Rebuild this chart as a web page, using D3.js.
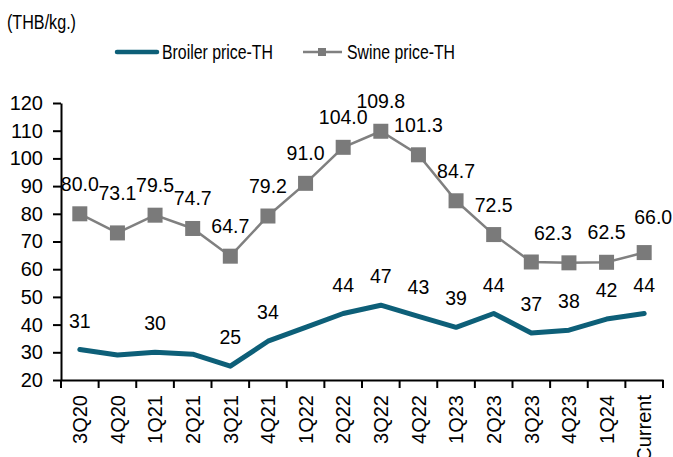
<!DOCTYPE html>
<html>
<head>
<meta charset="utf-8">
<script src="https://cdn.jsdelivr.net/npm/d3@7"></script>
<style>
  body { margin: 0; background: #fff; }
  text { font-family: "Liberation Sans", Arial, sans-serif; fill: #000; }
</style>
</head>
<body>
<div id="chart"></div>
<script>
// quarters on the x axis
const categories = ["3Q20", "4Q20", "1Q21", "2Q21", "3Q21", "4Q21", "1Q22", "2Q22",
  "3Q22", "4Q22", "1Q23", "2Q23", "3Q23", "4Q23", "1Q24", "Current"];

const broilerPrice = [31, 29, 30, 29.3, 25, 34, 39, 44, 47, 43, 39, 44, 37, 38, 42, 44];
const swinePrice = [80.0, 73.1, 79.5, 74.7, 64.7, 79.2, 91.0, 104.0, 109.8, 101.3, 84.7, 72.5, 62.6, 62.3, 62.5, 66.0];

// which points carry a value label
const broilerLabelled = ["3Q20", "1Q21", "3Q21", "4Q21", "2Q22", "3Q22", "4Q22", "1Q23", "2Q23", "3Q23", "4Q23", "1Q24", "Current"];
const swineLabelled = ["3Q20", "4Q20", "1Q21", "2Q21", "3Q21", "4Q21", "1Q22", "2Q22", "3Q22", "4Q22", "1Q23", "2Q23", "4Q23", "1Q24", "Current"];

const yTicks = [20, 30, 40, 50, 60, 70, 80, 90, 100, 110, 120];

const width = 673, height = 457;
const margin = { top: 103, right: 10, bottom: 77, left: 61 };
const broilerColor = "#0d5f78";
const swineColor = "#808080";

const svg = d3.select("#chart").append("svg")
  .attr("width", width)
  .attr("height", height);

const x = d3.scaleBand()
  .domain(categories)
  .range([margin.left, width - margin.right]);

const y = d3.scaleLinear()
  .domain([20, 120])
  .range([height - margin.bottom, margin.top]);

const cx = d => x(d) + x.bandwidth() / 2;

// y axis
const yAxis = svg.append("g")
  .attr("transform", `translate(${margin.left},0)`)
  .call(d3.axisLeft(y).tickValues(yTicks).tickSize(8).tickPadding(10).tickSizeOuter(0));
yAxis.selectAll("text").style("font-size", "20px").attr("fill", "#000");
yAxis.selectAll("line, path").attr("stroke", "#000").attr("stroke-width", 2);

// x axis: labels centred, ticks at band edges
const xAxis = svg.append("g")
  .attr("transform", `translate(0,${height - margin.bottom})`)
  .call(d3.axisBottom(x).tickSize(0).tickSizeOuter(0));
xAxis.select(".domain").attr("stroke", "#000").attr("stroke-width", 2);
xAxis.selectAll(".tick text")
  .style("font-size", "20px")
  .attr("fill", "#000")
  .attr("text-anchor", "end")
  .attr("transform", "rotate(-90)")
  .attr("x", -15)
  .attr("y", 0)
  .attr("dy", "0.36em");
xAxis.selectAll(".edge")
  .data(categories.map(c => x(c)).concat([x.range()[1]]))
  .enter().append("line")
  .attr("class", "edge")
  .attr("x1", d => d).attr("x2", d => d)
  .attr("y1", 0).attr("y2", 8)
  .attr("stroke", "#000").attr("stroke-width", 2);

// lines
const line = vals => d3.line()
  .x((d, i) => cx(categories[i]))
  .y(d => y(d))(vals);

svg.append("path")
  .attr("d", line(swinePrice))
  .attr("fill", "none")
  .attr("stroke", swineColor)
  .attr("stroke-width", 2.5);

svg.selectAll(".swine-pt")
  .data(swinePrice)
  .enter().append("rect")
  .attr("class", "swine-pt")
  .attr("x", (d, i) => cx(categories[i]) - 7.5)
  .attr("y", d => y(d) - 7.5)
  .attr("width", 15).attr("height", 15)
  .attr("fill", "#7a7a7a");

svg.append("path")
  .attr("d", line(broilerPrice))
  .attr("fill", "none")
  .attr("stroke", broilerColor)
  .attr("stroke-width", 5)
  .attr("stroke-linejoin", "round")
  .attr("stroke-linecap", "round");

// value labels
const swineNudge = { "4Q20": [0, -10], "4Q23": [-16, 0], "Current": [9, -6] };

svg.selectAll(".swine-lbl")
  .data(categories.map((c, i) => ({ c, v: swinePrice[i] })).filter(d => swineLabelled.includes(d.c)))
  .enter().append("text")
  .attr("class", "swine-lbl")
  .attr("x", d => cx(d.c) + (swineNudge[d.c] ? swineNudge[d.c][0] : 0))
  .attr("y", d => y(d.v) - 23 + (swineNudge[d.c] ? swineNudge[d.c][1] : 0))
  .attr("text-anchor", "middle")
  .style("font-size", "19.5px")
  .text(d => d3.format(".1f")(d.v));

svg.selectAll(".broiler-lbl")
  .data(categories.map((c, i) => ({ c, v: broilerPrice[i] })).filter(d => broilerLabelled.includes(d.c)))
  .enter().append("text")
  .attr("class", "broiler-lbl")
  .attr("x", d => cx(d.c))
  .attr("y", d => y(d.v) - 22)
  .attr("text-anchor", "middle")
  .style("font-size", "19.5px")
  .text(d => d3.format(".0f")(d.v));

// unit title
svg.append("text")
  .attr("x", 7).attr("y", 29)
  .style("font-size", "20.5px")
  .attr("textLength", 69).attr("lengthAdjust", "spacingAndGlyphs")
  .text("(THB/kg.)");

// legend
const legend = svg.append("g");
legend.append("line")
  .attr("x1", 117).attr("x2", 157).attr("y1", 52).attr("y2", 52)
  .attr("stroke", broilerColor).attr("stroke-width", 4.5).attr("stroke-linecap", "round");
legend.append("text")
  .attr("x", 162).attr("y", 58.5)
  .style("font-size", "19.5px")
  .attr("textLength", 111).attr("lengthAdjust", "spacingAndGlyphs")
  .text("Broiler price-TH");
legend.append("line")
  .attr("x1", 303).attr("x2", 342).attr("y1", 52).attr("y2", 52)
  .attr("stroke", swineColor).attr("stroke-width", 2.5);
legend.append("rect")
  .attr("x", 318).attr("y", 48).attr("width", 8).attr("height", 8)
  .attr("fill", "#7a7a7a");
legend.append("text")
  .attr("x", 347).attr("y", 58.5)
  .style("font-size", "19.5px")
  .attr("textLength", 108).attr("lengthAdjust", "spacingAndGlyphs")
  .text("Swine price-TH");
</script>
</body>
</html>
